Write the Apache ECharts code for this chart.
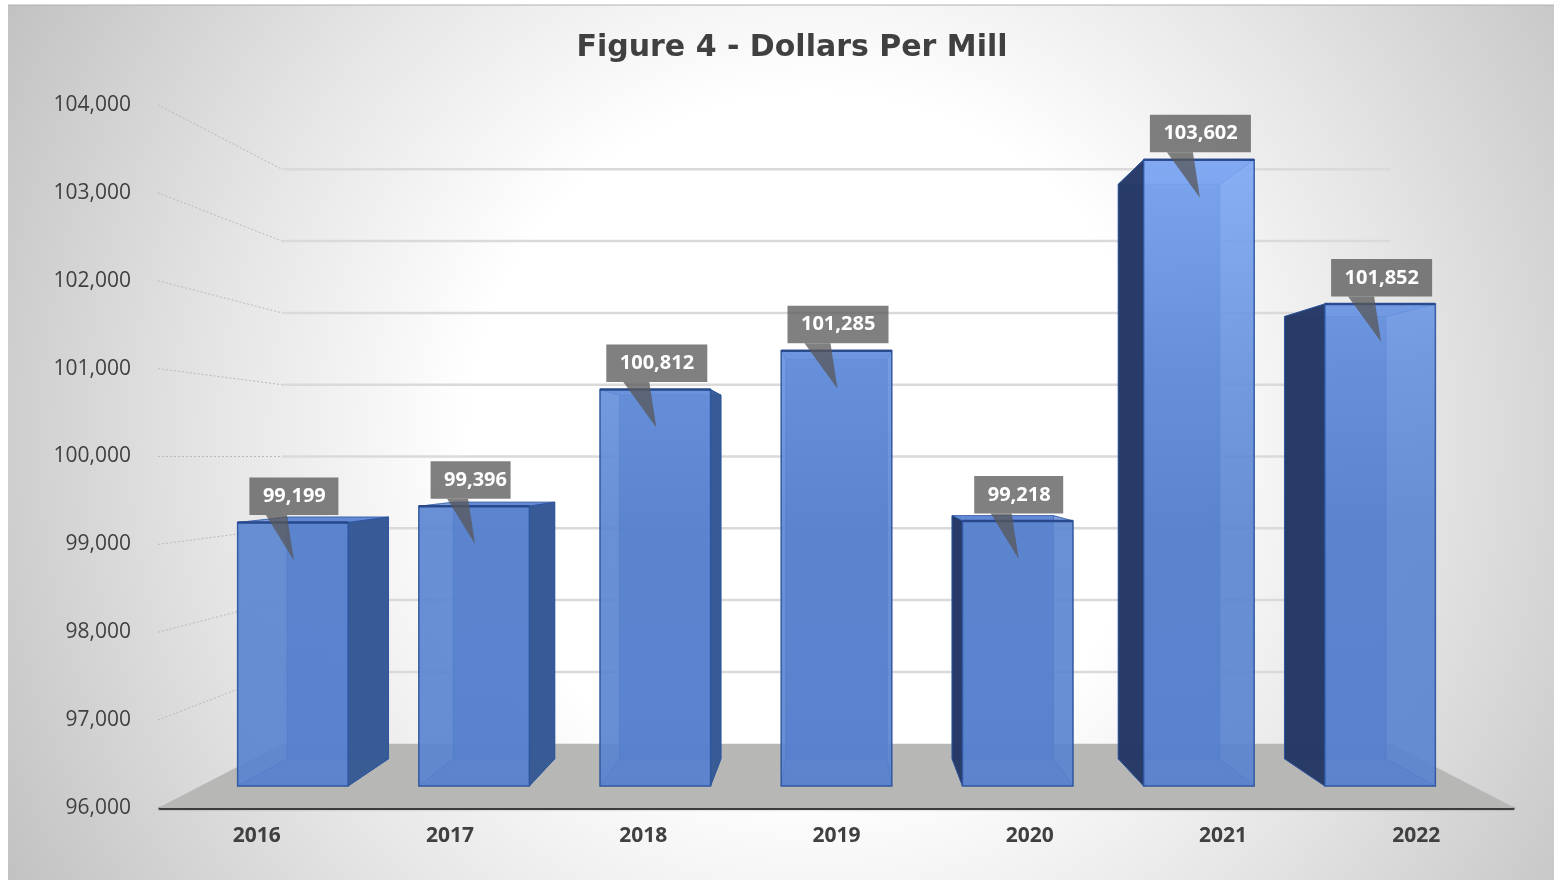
<!DOCTYPE html>
<html>
<head>
<meta charset="utf-8">
<style>html,body{margin:0;padding:0;background:#fff}#chart{width:1554px;height:880px}</style>
<script src="https://cdn.jsdelivr.net/npm/echarts@6/dist/echarts.min.js"></script>
</head>
<body>
<div id="chart"></div>
<script>
// Dollars per mill by year
const categories = ['2016', '2017', '2018', '2019', '2020', '2021', '2022'];
const dollarsPerMill = [99199, 99396, 100812, 101285, 99218, 103602, 101852];
const tickValues = [96000, 97000, 98000, 99000, 100000, 101000, 102000, 103000, 104000];

// Depth factors of the perspective: 1 is the axis plane, smaller is farther back
const WALL_DEPTH = 0.817;
const BAR_FRONT = 0.9375;
const BAR_BACK = 0.86;
const BAR_WIDTH_RATIO = 0.61;

const sans = '"Open Sans", sans-serif';
const { LinearGradient, RadialGradient } = echarts.graphic;

function projector(coordSys) {
  const cx = coordSys.x + coordSys.width / 2;
  const cy = coordSys.y + coordSys.height / 2;
  return (p, s) => [cx + (p[0] - cx) * s, cy + (p[1] - cy) * s];
}

function poly(points, fill, stroke, lineWidth) {
  return {
    type: 'polygon',
    silent: true,
    shape: { points },
    style: { fill, stroke: stroke || 'none', lineWidth: lineWidth || 0 }
  };
}

function renderFloor(params) {
  const c = params.coordSys;
  const p = projector(c);
  const bottom = c.y + c.height;
  const l = [c.x - 2, bottom], r = [c.x + c.width + 2, bottom];
  return poly([l, r, p(r, WALL_DEPTH), p(l, WALL_DEPTH)], '#b7b7b5');
}

function renderWalls(params, api) {
  const c = params.coordSys;
  const p = projector(c);
  const value = api.value(1);
  const y = api.coord([0, value])[1];
  const l = [c.x - 2, y], r = [c.x + c.width + 2, y];
  const backL = p(l, WALL_DEPTH), backR = p(r, WALL_DEPTH);
  const children = [];
  if (value !== tickValues[0]) {
    children.push({
      type: 'line', silent: true,
      shape: { x1: backL[0], y1: backL[1], x2: backR[0], y2: backR[1] },
      style: { stroke: '#dadada', lineWidth: 2.5, fill: 'none' }
    });
    children.push({
      type: 'line', silent: true,
      shape: { x1: l[0], y1: l[1], x2: backL[0], y2: backL[1] },
      style: { stroke: '#b9b9b9', lineWidth: 1, lineDash: [2, 2], fill: 'none' }
    });
  }
  return { type: 'group', children };
}

function renderBar(params, api) {
  const c = params.coordSys;
  const p = projector(c);
  const index = api.value(0);
  const top = api.coord([index, api.value(1)]);
  const base = api.coord([index, tickValues[0]]);
  const half = api.size([1, 0])[0] * BAR_WIDTH_RATIO / 2;
  const corner = (x, y, s) => p([x, y], s);
  const xl = top[0] - half, xr = top[0] + half;
  const fl = corner(xl, top[1], BAR_FRONT), fr = corner(xr, top[1], BAR_FRONT);
  const fbl = corner(xl, base[1], BAR_FRONT), fbr = corner(xr, base[1], BAR_FRONT);
  const bl = corner(xl, top[1], BAR_BACK), br = corner(xr, top[1], BAR_BACK);
  const bbl = corner(xl, base[1], BAR_BACK), bbr = corner(xr, base[1], BAR_BACK);

  // The face colour brightens with height across the whole plot
  const faceFill = new LinearGradient(0, c.y, 0, c.y + c.height, [
    { offset: 0, color: 'rgba(134,176,250,0.86)' },
    { offset: 0.1, color: 'rgba(126,168,244,0.86)' },
    { offset: 0.36, color: 'rgba(104,146,222,0.86)' },
    { offset: 0.6, color: 'rgba(90,132,208,0.86)' },
    { offset: 1, color: 'rgba(88,130,208,0.86)' }
  ], true);

  const edge = 'rgba(44,84,156,0.85)';
  const innerEdge = 'rgba(48,88,160,0.55)';
  const centre = c.x + c.width / 2;
  const leftOuter = top[0] > centre + 1;
  const rightOuter = top[0] < centre - 1;
  const hidden = 'rgba(88,130,208,0.35)';
  const leftFill = leftOuter ? 'rgba(36,54,98,0.94)' : hidden;
  const rightFill = rightOuter ? 'rgba(52,88,146,0.92)' : hidden;

  return {
    type: 'group',
    children: [
      poly([bl, br, bbr, bbl], 'rgba(74,112,190,0.85)', innerEdge, 1),
      poly([bbl, bbr, fbr, fbl], 'rgba(60,98,180,0.5)', innerEdge, 1),
      poly([bl, br, fr, fl], 'rgba(100,140,220,0.7)', innerEdge, 1),
      poly([bl, fl, fbl, bbl], leftFill, leftOuter ? edge : innerEdge, 1),
      poly([br, fr, fbr, bbr], rightFill, rightOuter ? edge : innerEdge, 1),
      poly([fl, fr, fbr, fbl], faceFill, edge, 1.5),
      {
        type: 'line', silent: true,
        shape: { x1: fl[0], y1: fl[1], x2: fr[0], y2: fr[1] },
        style: { stroke: 'rgba(38,70,136,0.9)', lineWidth: 2.5, fill: 'none' }
      }
    ]
  };
}

function renderCallout(params, api) {
  const p = projector(params.coordSys);
  const index = api.value(0);
  const value = api.value(1);
  const [x, y] = p(api.coord([index, value]), BAR_FRONT);
  const text = value.toLocaleString('en-US');
  const wide = text.length > 6;
  const fill = 'rgba(88,88,88,0.76)';
  const tipX = x + 1, tipY = y + 38;
  const boxLeft = tipX - (wide ? 50 : 44.5);
  const boxWidth = wide ? 101 : (categories[index] === '2017' ? 80 : 89);
  const boxBottom = y - 7.5, boxTop = boxBottom - 37.5;
  const baseLeft = tipX - (wide ? 33 : 28), baseRight = tipX - 7;
  return {
    type: 'group',
    children: [
      {
        type: 'rect', silent: true,
        shape: { x: boxLeft, y: boxTop, width: boxWidth, height: 37.5 },
        style: { fill }
      },
      poly([[baseLeft, boxBottom], [baseRight, boxBottom], [tipX, tipY]], fill),
      {
        type: 'text', silent: true,
        style: {
          text, x: boxLeft + 13.5, y: boxTop + 19,
          fill: '#ffffff', font: 'bold 20px ' + sans,
          textAlign: 'left', textVerticalAlign: 'middle'
        }
      }
    ]
  };
}

const chart = echarts.init(document.getElementById('chart'), null, { renderer: 'canvas' });
chart.setOption({
  animation: false,
  backgroundColor: '#ffffff',
  title: {
    text: 'Figure 4 - Dollars Per Mill',
    left: 787, top: 43, textAlign: 'center', textVerticalAlign: 'middle',
    textStyle: { fontFamily: '"DejaVu Sans"', fontWeight: 'bold', fontSize: 30, color: '#404040' }
  },
  graphic: [
    {
      type: 'rect', z: -1, silent: true,
      shape: { x: 8, y: 5, width: 1546, height: 875 },
      style: {
        fill: new RadialGradient(815, 440, 960, [
          { offset: 0, color: '#ffffff' },
          { offset: 0.36, color: '#ffffff' },
          { offset: 0.62, color: '#e6e6e6' },
          { offset: 1, color: '#bdbdbd' }
        ], true)
      }
    },
    {
      type: 'line', z: -1, silent: true,
      shape: { x1: 8, y1: 5, x2: 1554, y2: 5 },
      style: { stroke: '#b0b0b0', lineWidth: 1 }
    }
  ],
  grid: { left: 160, top: 105, width: 1353, height: 703, containLabel: false },
  xAxis: {
    type: 'category',
    data: categories,
    axisTick: { show: false },
    axisLine: { show: true, lineStyle: { color: '#3c3c3c', width: 3, cap: 'round', shadowColor: 'rgba(0,0,0,0.3)', shadowBlur: 2 } },
    axisLabel: { color: '#404040', fontFamily: sans, fontWeight: 'bold', fontSize: 21, margin: 18 }
  },
  yAxis: {
    type: 'value',
    min: 96000, max: 104000, interval: 1000,
    axisLine: { show: false },
    axisTick: { show: false },
    splitLine: { show: false },
    axisLabel: {
      color: '#404040', fontFamily: sans, fontSize: 21, margin: 29,
      formatter: v => v.toLocaleString('en-US')
    }
  },
  series: [
    { type: 'custom', z: 1, clip: false, silent: true, renderItem: renderFloor, data: [[0, tickValues[0]]], encode: { x: 0, y: 1 } },
    { type: 'custom', z: 2, clip: false, silent: true, renderItem: renderWalls, data: tickValues.map(v => [0, v]), encode: { x: 0, y: 1 } },
    { type: 'custom', z: 3, clip: false, silent: true, renderItem: renderBar, data: dollarsPerMill.map((v, i) => [i, v]), encode: { x: 0, y: 1 } },
    { type: 'custom', z: 4, clip: false, silent: true, renderItem: renderCallout, data: dollarsPerMill.map((v, i) => [i, v]), encode: { x: 0, y: 1 } }
  ]
});
</script>
</body>
</html>
